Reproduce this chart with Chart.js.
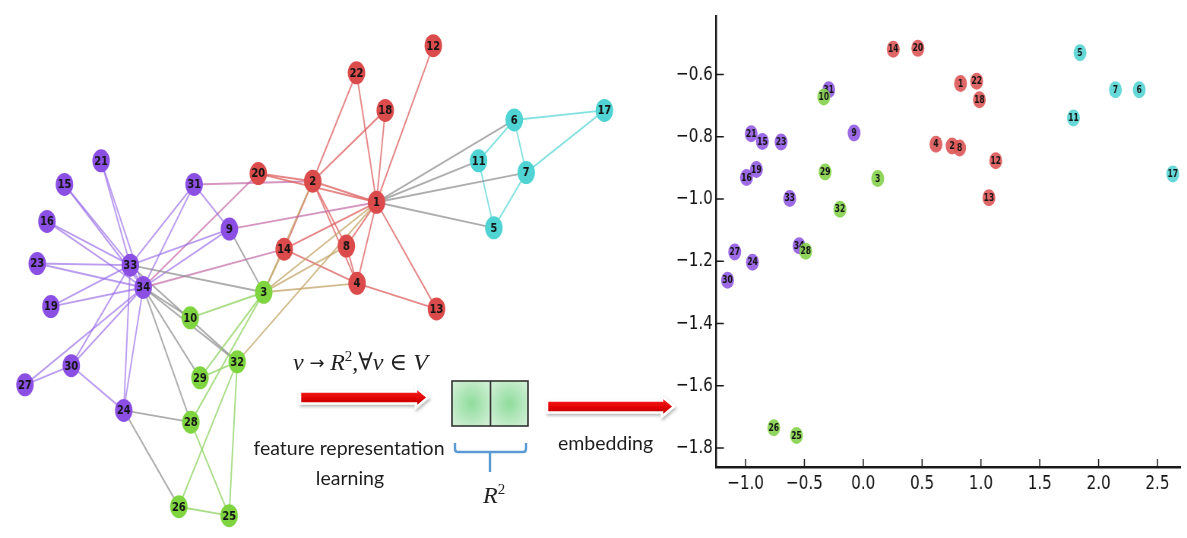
<!DOCTYPE html>
<html>
<head>
<meta charset="utf-8">
<script src="https://cdn.jsdelivr.net/npm/chart.js@4.4.1/dist/chart.umd.min.js"></script>
<style>
  html, body { margin: 0; padding: 0; background: #fff; overflow: hidden; }
  #wrap { position: relative; width: 1187px; height: 538px; overflow: hidden; background: #fff; }
  canvas.squish { position: absolute; top: 0; transform-origin: 0 0; transform: scaleX(0.76); }
  #netCanvas { left: 0; }
  #embCanvas { left: 630px; }
  #mid { position: absolute; left: 0; top: 0; }
</style>
</head>
<body>
<div id="wrap">
  <canvas id="netCanvas" class="squish" width="825" height="538"></canvas>
  <canvas id="embCanvas" class="squish" width="733" height="538"></canvas>
  <svg id="mid" width="1187" height="538" xmlns="http://www.w3.org/2000/svg">
    <defs>
      <linearGradient id="redGrad" x1="0" y1="0" x2="0" y2="1">
        <stop offset="0" stop-color="#ff2a2a"/>
        <stop offset="0.55" stop-color="#e00000"/>
        <stop offset="1" stop-color="#a80000"/>
      </linearGradient>
      <radialGradient id="cellGrad" cx="0.5" cy="0.5" r="0.6">
        <stop offset="0" stop-color="#8fdc9c"/>
        <stop offset="1" stop-color="#cdeed2"/>
      </radialGradient>
      <filter id="shadow" x="-10%" y="-50%" width="120%" height="200%">
        <feDropShadow dx="1" dy="2" stdDeviation="1.5" flood-color="#888" flood-opacity="0.6"/>
      </filter>
    </defs>
    <!-- arrows -->
    <polygon points="300,391.5 416,391.5 416,387.5 428,397.5 416,407.5 416,403.5 300,403.5"
             fill="url(#redGrad)" stroke="#fff" stroke-width="2.5" filter="url(#shadow)"/>
    <polygon points="547,400.5 662,400.5 662,396.5 674,406.5 662,416.5 662,412.5 547,412.5"
             fill="url(#redGrad)" stroke="#fff" stroke-width="2.5" filter="url(#shadow)"/>
    <!-- R^2 vector -->
    <rect x="452" y="381" width="38.5" height="45" fill="url(#cellGrad)"/>
    <rect x="490.5" y="381" width="37.5" height="45" fill="url(#cellGrad)"/>
    <rect x="452" y="381" width="76" height="45" fill="none" stroke="#333" stroke-width="1.6"/>
    <line x1="490.5" y1="381" x2="490.5" y2="426" stroke="#333" stroke-width="1.6"/>
    <path d="M455,443 L455,449 Q455,452 458,452 L523,452 Q526,452 526,449 L526,443 M490,452 L490,472"
          fill="none" stroke="#5b9bd5" stroke-width="2.4"/>
    <!-- texts -->
    <text x="293" y="370" font-family="'Liberation Serif','DejaVu Serif',serif" font-size="24" fill="#222"><tspan font-style="italic">v</tspan><tspan font-family="'DejaVu Sans'" font-size="18" dy="-1"> → </tspan><tspan font-style="italic" dy="1">R</tspan><tspan font-size="15" dy="-9">2</tspan><tspan dy="9">,∀</tspan><tspan font-style="italic">v</tspan> ∈ <tspan font-style="italic">V</tspan></text>
    <text x="349" y="455" text-anchor="middle" font-family="Lato,'Open Sans',sans-serif" font-size="19.5" fill="#1e1e1e">feature representation</text>
    <text x="350" y="485" text-anchor="middle" font-family="Lato,'Open Sans',sans-serif" font-size="19.5" fill="#1e1e1e">learning</text>
    <text x="558" y="450" font-family="Lato,'Open Sans',sans-serif" font-size="19.5" fill="#1e1e1e">embedding</text>
    <text x="483" y="503" font-family="'Liberation Serif','DejaVu Serif',serif" font-size="24" fill="#222"><tspan font-style="italic">R</tspan><tspan font-size="15" dy="-9">2</tspan></text>
  </svg>
</div>
<script>
// Zachary karate club, nodes 1..34
const nodeIds = [1, 2, 3, 4, 5, 6, 7, 8, 9, 10, 11, 12, 13, 14, 15, 16, 17,
                 18, 19, 20, 21, 22, 23, 24, 25, 26, 27, 28, 29, 30, 31, 32, 33, 34];
// community of each node: r = red, c = cyan, g = green, p = purple
const community = ['r', 'r', 'g', 'r', 'c', 'c', 'c', 'r', 'p', 'g', 'c', 'r', 'r', 'r', 'p', 'p', 'c',
                   'r', 'p', 'r', 'p', 'r', 'p', 'p', 'g', 'g', 'p', 'g', 'g', 'p', 'p', 'g', 'p', 'p'];

// graph drawing layout (left panel)
const netX = [378.3, 312.7, 262.3, 358.3, 499, 520, 532.3, 347.3, 227, 186.7, 483.3, 436.7, 440, 283.3, 57.3, 39.3, 612.7,
              387.3, 43.3, 256.7, 95, 357.7, 29.3, 118.3, 226.7, 175, 16.7, 187.3, 196.7, 64.3, 190.7, 235, 125, 138.3];
const netY = [199.3, 177.3, 293.3, 284, 226, 113.3, 168.3, 245, 227.3, 320, 156, 35.7, 310.7, 248.3, 180.7, 219.3, 103.3,
              103.3, 308.3, 169.3, 156, 64, 263.3, 416.7, 526.7, 517.3, 390, 429, 382.7, 370, 180.7, 366, 265, 288.3];

const edges = [
  [1, 2], [1, 3], [1, 4], [1, 5], [1, 6], [1, 7], [1, 8], [1, 9], [1, 11], [1, 12], [1, 13], [1, 14], [1, 18], [1, 20], [1, 22], [1, 32],
  [2, 3], [2, 4], [2, 8], [2, 14], [2, 18], [2, 20], [2, 22], [2, 31],
  [3, 4], [3, 8], [3, 9], [3, 10], [3, 14], [3, 28], [3, 29], [3, 33],
  [4, 8], [4, 13], [4, 14], [5, 7], [5, 11], [6, 7], [6, 11], [6, 17], [7, 17],
  [9, 31], [9, 33], [9, 34], [10, 34], [14, 34], [15, 33], [15, 34], [16, 33], [16, 34],
  [19, 33], [19, 34], [20, 34], [21, 33], [21, 34], [23, 33], [23, 34],
  [24, 26], [24, 28], [24, 30], [24, 33], [24, 34], [25, 26], [25, 28], [25, 32], [26, 32],
  [27, 30], [27, 34], [28, 34], [29, 32], [29, 34], [30, 33], [30, 34], [31, 33], [31, 34],
  [32, 33], [32, 34], [33, 34]
];

// 2-d embedding (right panel)
const embX = [0.827, 0.755, 0.123, 0.618, 1.842, 2.345, 2.143, 0.819, -0.078, -0.335, 1.786, 1.126, 1.068, 0.255, -0.857, -0.992, 2.630,
              0.987, -0.908, 0.464, -0.952, 0.964, -0.698, -0.941, -0.567, -0.760, -1.092, -0.489, -0.324, -1.153, -0.293, -0.198, -0.625, -0.545];
const embY = [-0.629, -0.830, -0.934, -0.824, -0.530, -0.649, -0.649, -0.836, -0.788, -0.672, -0.740, -0.877, -0.996, -0.519, -0.815, -0.931, -0.920,
              -0.681, -0.905, -0.516, -0.790, -0.622, -0.817, -1.203, -1.760, -1.735, -1.170, -1.168, -0.913, -1.261, -0.649, -1.033, -0.998, -1.150];

const xTicks = [-1.0, -0.5, 0.0, 0.5, 1.0, 1.5, 2.0, 2.5];
const yTicks = [-1.8, -1.6, -1.4, -1.2, -1.0, -0.8, -0.6];

const commColor = { r: '#db4b4b', c: '#4fd3d3', g: '#7fd540', p: '#8b4fe3' };
const embColor = { r: 'rgba(221,86,86,0.9)', c: 'rgba(86,212,212,0.9)', g: 'rgba(132,210,74,0.9)', p: 'rgba(145,90,225,0.9)' };
const commOrder = { g: 0, c: 1, r: 2, p: 3 };

function edgeColor(a, b) {
  if (a == b) {
    return { r: 'rgba(220,95,95,0.75)', c: 'rgba(95,215,215,0.75)', g: 'rgba(140,210,95,0.75)', p: 'rgba(150,105,230,0.65)' }[a];
  }
  const k = [a, b].sort().join('');
  if (k == 'gr') return 'rgba(195,165,105,0.75)';
  if (k == 'pr') return 'rgba(195,105,165,0.7)';
  return 'rgba(145,145,145,0.75)';
}

// draws the node number inside each marker
function labelPlugin(fontPx) {
  return {
    id: 'nodeLabels',
    afterDatasetDraw(chart, args) {
      const ds = chart.data.datasets[args.index];
      if (!ds.ids) return;
      const ctx = chart.ctx;
      ctx.save();
      ctx.font = 'bold ' + fontPx + 'px "DejaVu Sans"';
      ctx.fillStyle = '#141414';
      ctx.textAlign = 'center';
      ctx.textBaseline = 'middle';
      args.meta.data.forEach((el, i) => ctx.fillText(String(ds.ids[i]), el.x, el.y + 0.5));
      ctx.restore();
    }
  };
}

// ---------- left: graph ----------
const netDatasets = [];
edges.forEach(e => {
  const a = e[0] - 1, b = e[1] - 1;
  netDatasets.push({
    type: 'line',
    data: [{ x: netX[a], y: netY[a] }, { x: netX[b], y: netY[b] }],
    borderColor: edgeColor(community[a], community[b]),
    borderWidth: 1.9,
    pointRadius: 0,
    fill: false,
    order: 10,
    clip: false
  });
});
['p', 'r', 'c', 'g'].forEach(c => {
  const idx = nodeIds.map((id, i) => i).filter(i => community[i] == c);
  netDatasets.push({
    data: idx.map(i => ({ x: netX[i], y: netY[i] })),
    ids: idx.map(i => nodeIds[i]),
    backgroundColor: commColor[c],
    borderColor: commColor[c],
    borderWidth: 0,
    pointRadius: 11.5,
    order: commOrder[c],
    clip: false
  });
});

new Chart(document.getElementById('netCanvas'), {
  type: 'scatter',
  data: { datasets: netDatasets },
  options: {
    responsive: false,
    animation: false,
    events: [],
    layout: { padding: 0 },
    plugins: { legend: { display: false }, tooltip: { enabled: false } },
    scales: {
      x: { type: 'linear', display: false, min: 0, max: 627 },
      y: { type: 'linear', display: false, min: 0, max: 538, reverse: true }
    }
  },
  plugins: [labelPlugin(13)]
});

// ---------- right: embedding ----------
const fmt = v => (v < 0 ? '\u2212' : '') + Math.abs(v).toFixed(1);

const innerTicks = {
  id: 'innerTicks',
  afterDraw(chart) {
    const { ctx, chartArea: a, scales } = chart;
    ctx.save();
    ctx.strokeStyle = '#1a1a1a';
    ctx.lineWidth = 1.5;
    ctx.beginPath();
    xTicks.forEach(v => {
      const px = scales.x.getPixelForValue(v);
      ctx.moveTo(px, a.bottom);
      ctx.lineTo(px, a.bottom - 8);
    });
    yTicks.forEach(v => {
      const py = scales.y.getPixelForValue(v);
      ctx.moveTo(a.left, py);
      ctx.lineTo(a.left + 10.5, py);
    });
    ctx.stroke();
    ctx.restore();
  }
};

const embDatasets = ['p', 'r', 'c', 'g'].map(c => {
  const idx = nodeIds.map((id, i) => i).filter(i => community[i] == c);
  return {
    data: idx.map(i => ({ x: embX[i], y: embY[i] })),
    ids: idx.map(i => nodeIds[i]),
    backgroundColor: embColor[c],
    borderWidth: 0,
    pointRadius: 8.5,
    order: commOrder[c],
    clip: false
  };
});

new Chart(document.getElementById('embCanvas'), {
  type: 'scatter',
  data: { datasets: embDatasets },
  options: {
    responsive: false,
    animation: false,
    events: [],
    layout: { padding: { top: 13, right: 0, bottom: 0, left: 0 } },
    plugins: { legend: { display: false }, tooltip: { enabled: false } },
    scales: {
      x: {
        type: 'linear', min: -1.252, max: 2.697,
        afterBuildTicks: s => { s.ticks = xTicks.map(v => ({ value: v })); },
        afterFit: s => { s.height = 71; },
        grid: { display: false, drawTicks: false },
        border: { display: true, color: '#1a1a1a', width: 2.5 },
        ticks: { font: { family: 'DejaVu Sans', size: 20 }, color: '#151515', padding: 5, maxRotation: 0, autoSkip: false, callback: fmt }
      },
      y: {
        type: 'linear', min: -1.861, max: -0.412,
        afterBuildTicks: s => { s.ticks = yTicks.map(v => ({ value: v })); },
        afterFit: s => { s.width = 113; },
        grid: { display: false, drawTicks: false },
        border: { display: true, color: '#1a1a1a', width: 2.5 },
        ticks: { font: { family: 'DejaVu Sans', size: 20 }, color: '#151515', padding: 4, autoSkip: false, callback: fmt }
      }
    }
  },
  plugins: [labelPlugin(10), innerTicks]
});
</script>
</body>
</html>
